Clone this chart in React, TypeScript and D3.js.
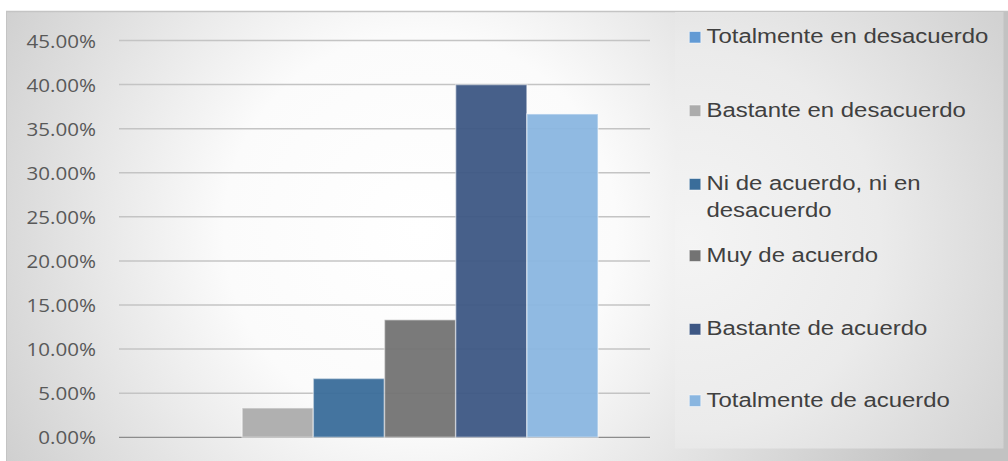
import React from "react";
import * as d3 from "d3";

const series = [
  "Totalmente en desacuerdo",
  "Bastante en desacuerdo",
  "Ni de acuerdo, ni en desacuerdo",
  "Muy de acuerdo",
  "Bastante de acuerdo",
  "Totalmente de acuerdo",
];
const values = [0, 0.0333, 0.0667, 0.1333, 0.4, 0.3667];
const colors = ["#629ad4", "#acacac", "#3a6d9a", "#737373", "#3d5784", "#8ab6e0"];
const yTicks = [0, 0.05, 0.1, 0.15, 0.2, 0.25, 0.3, 0.35, 0.4, 0.45];
const legendLines = [
  ["Totalmente en desacuerdo"],
  ["Bastante en desacuerdo"],
  ["Ni de acuerdo, ni en", "desacuerdo"],
  ["Muy de acuerdo"],
  ["Bastante de acuerdo"],
  ["Totalmente de acuerdo"],
];
const legendBaselines = [43, 116.5, 190, 261.5, 335, 406.5];

export default function App() {
  const W = 1008, H = 461;
  const plotLeft = 119, plotRight = 650;
  const y = d3.scaleLinear().domain([0, 0.45]).range([437.3, 40.5]);
  const x = d3.scaleBand<string>().domain(series).range([plotLeft, plotRight]).paddingInner(0).paddingOuter(0.73);
  const fmt = d3.format(".2%");
  return (
    <svg width={W} height={H} style={{ position: "absolute", left: 0, top: 0, display: "block" }}>
      <defs>
        <radialGradient id="bg" cx="420" cy="230" r="560" gradientUnits="userSpaceOnUse">
          <stop offset="0" stopColor="#ffffff" />
          <stop offset="0.35" stopColor="#fbfbfb" />
          <stop offset="0.75" stopColor="#d8d8d8" />
          <stop offset="1" stopColor="#c2c2c2" />
        </radialGradient>
        <radialGradient id="lg" cx="690" cy="240" r="380" gradientUnits="userSpaceOnUse">
          <stop offset="0" stopColor="#f4f4f4" />
          <stop offset="0.5" stopColor="#ebebeb" />
          <stop offset="1" stopColor="#d2d2d2" />
        </radialGradient>
      </defs>
      <rect x={0} y={0} width={W} height={H} fill="#ffffff" />
      <rect x={6} y={11} width={W - 6} height={H - 11} fill="url(#bg)" />
      <line x1={6} x2={W} y1={11.5} y2={11.5} stroke="#c4c4c4" strokeWidth={1.5} />
      <line x1={6.5} x2={6.5} y1={11} y2={H} stroke="#c4c4c4" strokeWidth={1} />
      <rect x={675} y={12} width={328.5} height={436.5} fill="url(#lg)" />
      {yTicks.map((t) => (
        <g key={t}>
          <line
            x1={plotLeft}
            x2={plotRight}
            y1={y(t)}
            y2={y(t)}
            stroke={t === 0 ? "#8c8c8c" : "#c4c4c4"}
            strokeWidth={t === 0 ? 1.3 : 1.5}
          />
          <text
            transform={`translate(96,${y(t) + 7}) scale(1.1,1)`}
            textAnchor="end"
            fontFamily="'Open Sans', sans-serif"
            fontSize={18.7}
            fill="#595959"
          >
            {fmt(t)}
          </text>
        </g>
      ))}
      {series.map((s, i) => (
        <rect
          key={s}
          x={x(s)!}
          y={y(values[i])}
          width={x.bandwidth()}
          height={y(0) - y(values[i])}
          fill={colors[i]}
          fillOpacity={0.95}
          stroke="#ffffff"
          strokeOpacity={0.45}
          strokeWidth={1.5}
        />
      ))}
      {legendLines.map((lines, i) => (
        <g key={i}>
          <rect
            x={689.3}
            y={legendBaselines[i] - 11.5}
            width={11.5}
            height={11.5}
            fill={colors[i]}
            stroke="#ffffff"
            strokeOpacity={0.5}
            strokeWidth={1}
          />
          {lines.map((ln, j) => (
            <text
              key={j}
              transform={`translate(706.5,${legendBaselines[i] + j * 26.7}) scale(1.14,1)`}
              fontFamily="'Liberation Sans', Arial, sans-serif"
              fontSize={21}
              fill="#404040"
            >
              {ln}
            </text>
          ))}
        </g>
      ))}
    </svg>
  );
}
